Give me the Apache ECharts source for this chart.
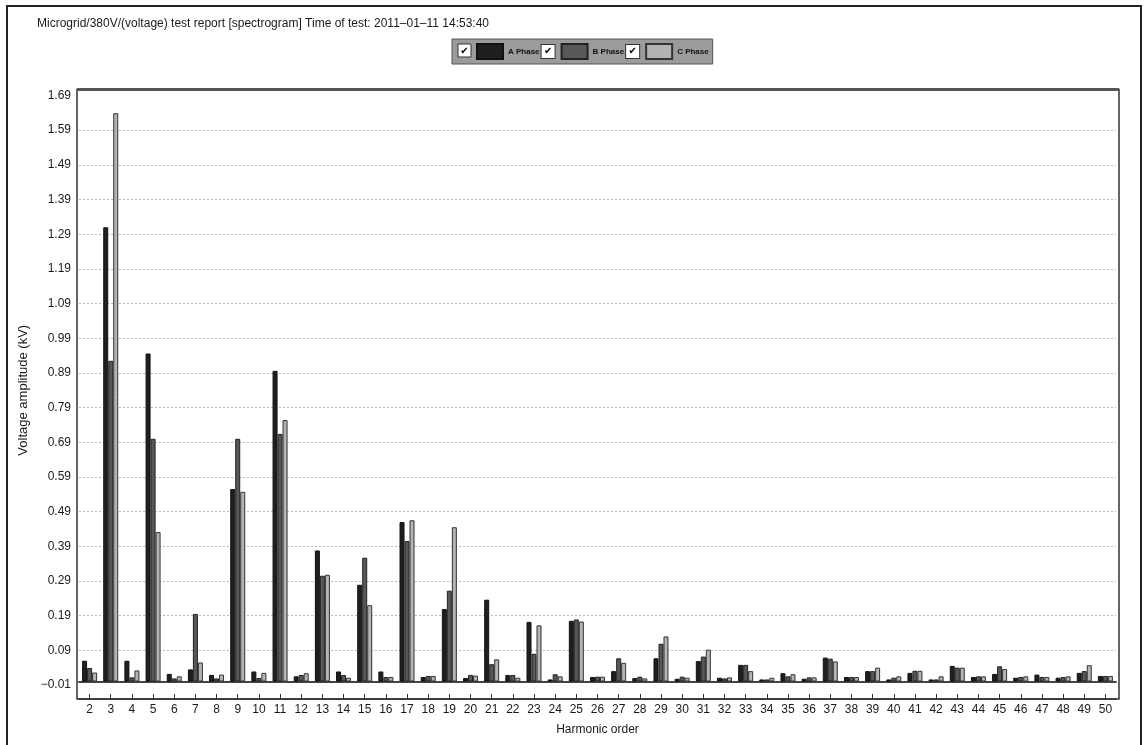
<!DOCTYPE html>
<html>
<head>
<meta charset="utf-8">
<style>
  html, body { margin: 0; padding: 0; background: #fff; }
  #chart { width: 1147px; height: 745px; }
</style>
<script src="https://cdn.jsdelivr.net/npm/echarts@6/dist/echarts.min.js"></script>
</head>
<body>
<div id="chart"></div>
<script>
// Harmonic orders 2..50
const harmonics = ['2','3','4','5','6','7','8','9','10','11','12','13','14','15','16','17','18','19','20','21','22','23','24','25','26','27','28','29','30','31','32','33','34','35','36','37','38','39','40','41','42','43','44','45','46','47','48','49','50'];

// Voltage amplitude per harmonic, kV
const phaseA = [0.060,1.310,0.060,0.946,0.022,0.035,0.019,0.555,0.029,0.896,0.015,0.378,0.029,0.279,0.029,0.460,0.013,0.209,0.010,0.236,0.019,0.172,0.006,0.175,0.013,0.030,0.010,0.067,0.008,0.059,0.011,0.048,0.006,0.024,0.008,0.069,0.013,0.030,0.006,0.025,0.006,0.045,0.013,0.022,0.011,0.020,0.011,0.025,0.016];
const phaseB = [0.039,0.925,0.012,0.700,0.009,0.195,0.009,0.700,0.010,0.714,0.019,0.305,0.019,0.357,0.013,0.405,0.016,0.262,0.019,0.050,0.019,0.080,0.021,0.179,0.014,0.067,0.014,0.109,0.014,0.072,0.009,0.048,0.006,0.015,0.012,0.066,0.013,0.030,0.011,0.031,0.006,0.040,0.015,0.044,0.013,0.013,0.013,0.030,0.016];
const phaseC = [0.026,1.639,0.032,0.431,0.015,0.055,0.020,0.547,0.025,0.754,0.024,0.308,0.011,0.220,0.013,0.465,0.016,0.445,0.017,0.064,0.011,0.162,0.015,0.173,0.014,0.054,0.009,0.130,0.011,0.092,0.012,0.030,0.011,0.021,0.012,0.058,0.013,0.040,0.015,0.031,0.015,0.040,0.015,0.036,0.015,0.013,0.015,0.047,0.016];

const seriesNames = ['A Phase', 'B Phase', 'C Phase'];
const titleText = 'Microgrid/380V/(voltage) test report [spectrogram] Time of test: 2011\u201301\u201311 14:53:40';

const FONT = 'Arial, "Liberation Sans", Helvetica, sans-serif';

const chart = echarts.init(document.getElementById('chart'), null, { renderer: 'canvas' });

function barSeries(name, data, fill, border) {
  return {
    name: name,
    type: 'bar',
    data: data,
    barWidth: 5,
    barGap: '0%',
    itemStyle: { color: fill, borderColor: border, borderWidth: 1 },
    emphasis: { disabled: true }
  };
}

// checkbox drawn ahead of the first legend swatch
function checkbox(x, y) {
  return [
    { type: 'rect', z: 50, silent: true,
      shape: { x: x, y: y, width: 13, height: 13 },
      style: { fill: '#fff', stroke: '#333', lineWidth: 1 } },
    { type: 'text', z: 51, silent: true, x: x + 6.5, y: y + 7,
      style: { text: '\u2714', fill: '#000', font: 'bold 10px "DejaVu Sans", sans-serif',
               align: 'center', verticalAlign: 'middle' } }
  ];
}

const option = {
  animation: false,
  backgroundColor: '#fff',
  textStyle: { fontFamily: FONT },
  title: {
    text: titleText,
    left: 32, top: 13,
    textStyle: { fontFamily: FONT, fontSize: 12, fontWeight: 'normal', color: '#1a1a1a' }
  },
  legend: {
    data: seriesNames,
    left: 452, top: 39,
    orient: 'horizontal',
    padding: [4, 4, 4, 24],
    itemGap: 5,
    itemWidth: 26,
    itemHeight: 15,
    icon: 'rect',
    selectedMode: false,
    backgroundColor: '#9b9b9b',
    borderColor: '#555',
    borderWidth: 1,
    formatter: function (name) {
      return name === 'C Phase' ? '{t|' + name + '}' : '{t|' + name + '}{cb|\u2714}';
    },
    textStyle: {
      fontFamily: FONT, fontSize: 8, fontWeight: 'bold', color: '#111',
      rich: {
        t: { fontFamily: FONT, fontSize: 8, fontWeight: 'bold', color: '#111', padding: [0, 2, 0, 0] },
        cb: { width: 13, height: 13, lineHeight: 13, align: 'center', backgroundColor: '#fff',
              borderColor: '#333', borderWidth: 1, color: '#000',
              fontFamily: '"DejaVu Sans", sans-serif', fontSize: 10, fontWeight: 'bold' }
      }
    }
  },
  grid: { left: 79, right: 31, top: 95.5, bottom: 60, containLabel: false },
  xAxis: [
    {
      type: 'category',
      data: harmonics,
      position: 'bottom',
      axisLine: { show: true, lineStyle: { color: '#444', width: 2 } },
      axisTick: { show: false },
      axisLabel: { show: false },
      splitLine: { show: false }
    },
    {
      type: 'category',
      data: harmonics,
      position: 'bottom',
      offset: 14,
      name: 'Harmonic order',
      nameLocation: 'middle',
      nameGap: 25,
      nameTextStyle: { fontFamily: FONT, fontSize: 12, color: '#1a1a1a' },
      axisLine: { show: true, lineStyle: { color: '#333', width: 1.5 } },
      axisTick: { show: true, inside: true, length: 5, alignWithLabel: true, lineStyle: { color: '#333', width: 1 } },
      axisLabel: { show: true, interval: 0, margin: 5, fontFamily: FONT, fontSize: 12, color: '#1a1a1a' },
      splitLine: { show: false }
    }
  ],
  yAxis: {
    type: 'value',
    min: -0.01,
    max: 1.69,
    interval: 0.1,
    name: 'Voltage amplitude (kV)',
    nameLocation: 'middle',
    nameGap: 48,
    nameTextStyle: { fontFamily: FONT, fontSize: 13, color: '#1a1a1a' },
    axisLine: { show: false },
    axisTick: { show: false },
    axisLabel: {
      margin: 8,
      fontFamily: FONT, fontSize: 12, color: '#1a1a1a',
      formatter: function (v) {
        const s = Math.abs(v).toFixed(2);
        return v < -0.001 ? '\u2212' + s : s;
      }
    },
    splitLine: { show: true, showMinLine: false, showMaxLine: false,
                 lineStyle: { color: '#b8b8b8', width: 1, type: [2, 2] } }
  },
  series: [
    barSeries('A Phase', phaseA, '#1f1f1f', '#111'),
    barSeries('B Phase', phaseB, '#585858', '#222'),
    barSeries('C Phase', phaseC, '#b4b4b4', '#333')
  ],
  graphic: [
    // outer page border
    { type: 'rect', z: -10, silent: true,
      shape: { x: 7, y: 6, width: 1134, height: 760 },
      style: { fill: 'none', stroke: '#222', lineWidth: 2 } },
    // plot frame
    { type: 'rect', z: 5, silent: true,
      shape: { x: 77, y: 89.5, width: 1042, height: 609.5 },
      style: { fill: 'none', stroke: '#333', lineWidth: 1.5 } },
    { type: 'line', z: 6, silent: true,
      shape: { x1: 77, y1: 89.5, x2: 1119, y2: 89.5 },
      style: { stroke: '#555', lineWidth: 3 } }
  ].concat(checkbox(458, 44))
};

chart.setOption(option);
</script>
</body>
</html>
